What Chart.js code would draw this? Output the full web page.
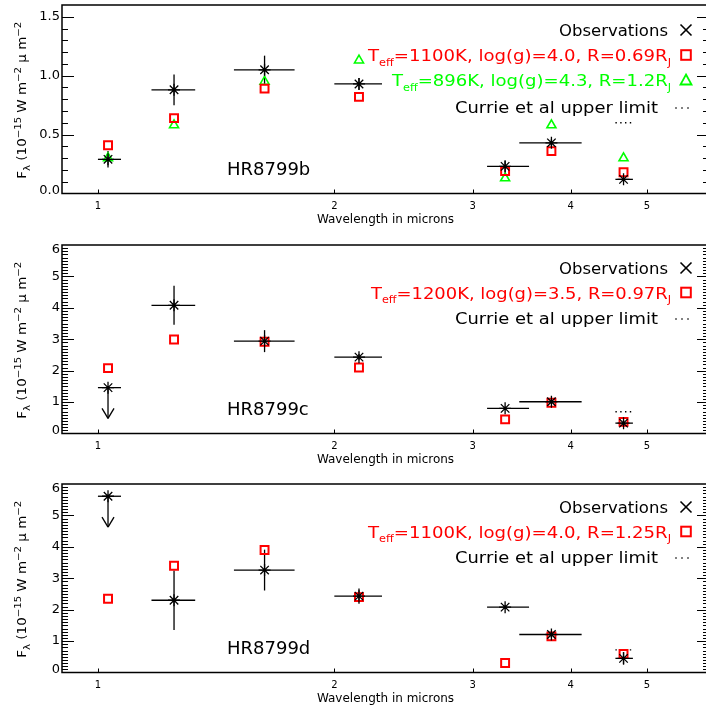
<!DOCTYPE html>
<html>
<head>
<meta charset="utf-8">
<script src="https://cdn.jsdelivr.net/npm/chart.js@4"></script>
<style>
  html, body { margin: 0; padding: 0; background: #fff; overflow: hidden; }
  body { width: 706px; height: 707px; position: relative; }
  .panel { position: absolute; left: 0; }
</style>
</head>
<body>
<div class="panel" style="top:0"><canvas id="chartB" width="712" height="236"></canvas></div>
<div class="panel" style="top:240px"><canvas id="chartC" width="712" height="236"></canvas></div>
<div class="panel" style="top:479px"><canvas id="chartD" width="712" height="236"></canvas></div>
<script>
// filter centres and widths (microns), same for the three planets
const wavelengths = [1.03, 1.25, 1.63, 2.15, 3.30, 3.78, 4.67];
const waveLow  = [1.00, 1.17, 1.49, 2.00, 3.13, 3.44, 4.56];
const waveHigh = [1.07, 1.33, 1.78, 2.30, 3.54, 4.13, 4.80];
const xTicks = [1, 2, 3, 4, 5];

// HR8799b
const obsB       = [0.29, 0.88, 1.05, 0.93, 0.23, 0.43, 0.12];
const obsErrB    = [0.07, 0.13, 0.12, 0.05, 0.05, 0.03, 0.02];
const model1100B = [0.41, 0.64, 0.89, 0.82, 0.19, 0.36, 0.18];
const model896B  = [0.30, 0.58, 0.95, 1.13, 0.13, 0.58, 0.30];
const currieB    = 0.60;
const yTicksB    = [0, 0.5, 1.0, 1.5];

// HR8799c
const obsC       = [1.46, 4.08, 2.94, 2.43, 0.80, 1.01, 0.33];
const obsErrC    = [0, 0.62, 0.35, 0.10, 0.05, 0.05, 0.10];
const limitTipC  = [0.48, null, null, null, null, null, null];
const model1200C = [2.08, 2.99, 2.92, 2.10, 0.45, 0.98, 0.37];
const currieC    = 0.69;

// HR8799d
const obsD       = [5.61, 2.30, 3.26, 2.43, 2.08, 1.21, 0.45];
const obsErrD    = [0, 0.95, 0.65, 0.24, 0.06, 0.10, 0.20];
const limitTipD  = [4.63, null, null, null, null, null, null];
const model1100D = [2.35, 3.40, 3.90, 2.40, 0.30, 1.15, 0.59];
const currieD    = 0.72;
const yTicksCD   = [0, 1, 2, 3, 4, 5, 6];

const FONT = '"DejaVu Sans", "Liberation Sans", sans-serif';
const RED = '#ff0000';
const GREEN = '#00ff00';

const pts = ys => wavelengths.map((x, i) => ({ x: x, y: ys[i] }));

function font(size) {
  return size + 'px ' + FONT;
}

// text with sub/superscripts, stretched to a given width when asked
function richWidth(ctx, parts, size, small) {
  let w = 0;
  parts.forEach(p => {
    ctx.font = font(p.sub || p.sup ? small : size);
    w += ctx.measureText(p.t).width;
  });
  return w;
}
function drawRich(ctx, parts, x, y, size, small, align, width) {
  const natural = richWidth(ctx, parts, size, small);
  const w = width || natural;
  const sx = w / natural;
  const left = align === 'right' ? x - w : align === 'center' ? x - w / 2 : x;
  ctx.save();
  ctx.translate(left, y);
  ctx.scale(sx, 1);
  ctx.textAlign = 'left';
  ctx.textBaseline = 'alphabetic';
  let cx = 0;
  parts.forEach(p => {
    ctx.font = font(p.sub || p.sup ? small : size);
    const dy = p.sub ? size * 0.3 : p.sup ? -size * 0.42 : 0;
    ctx.fillText(p.t, cx, dy);
    cx += ctx.measureText(p.t).width;
  });
  ctx.restore();
}

function line(ctx, x1, y1, x2, y2) {
  ctx.beginPath();
  ctx.moveTo(x1, y1);
  ctx.lineTo(x2, y2);
  ctx.stroke();
}

function drawSymbol(ctx, kind, x, y) {
  ctx.save();
  if (kind === 'x') {
    ctx.strokeStyle = '#000'; ctx.lineWidth = 1.6;
    line(ctx, x - 5.5, y - 5.5, x + 5.5, y + 5.5);
    line(ctx, x - 5.5, y + 5.5, x + 5.5, y - 5.5);
  } else if (kind === 'square') {
    ctx.strokeStyle = RED; ctx.lineWidth = 2;
    ctx.strokeRect(x - 4.8, y - 4.8, 9.6, 9.6);
  } else if (kind === 'triangle') {
    ctx.strokeStyle = GREEN; ctx.lineWidth = 1.8;
    ctx.beginPath();
    ctx.moveTo(x, y - 5.5); ctx.lineTo(x + 5.5, y + 4.5); ctx.lineTo(x - 5.5, y + 4.5);
    ctx.closePath(); ctx.stroke();
  } else if (kind === 'dots') {
    ctx.fillStyle = '#000';
    [-6, 0, 6].forEach(d => ctx.fillRect(x + d - 0.7, y - 0.7, 1.4, 1.4));
  }
  ctx.restore();
}

const yTitle = [
  { t: 'F' }, { t: 'λ', sub: true }, { t: ' (10' }, { t: '−15', sup: true },
  { t: ' W m' }, { t: '−2', sup: true }, { t: ' μ m' }, { t: '−2', sup: true }
];

const panelDecor = {
  id: 'panelDecor',
  beforeDatasetsDraw(chart, args, o) {
    const { ctx, scales: { x, y } } = chart;
    ctx.save();
    ctx.strokeStyle = '#000';
    ctx.lineWidth = 1.3;
    wavelengths.forEach((w, i) => {
      const px = x.getPixelForValue(w);
      const py = y.getPixelForValue(o.obs[i]);
      line(ctx, x.getPixelForValue(waveLow[i]), py, x.getPixelForValue(waveHigh[i]), py);
      if (o.err[i] > 0) {
        line(ctx, px, y.getPixelForValue(o.obs[i] - o.err[i]), px, y.getPixelForValue(o.obs[i] + o.err[i]));
      }
      if (o.tips && o.tips[i] != null) {
        const ty = y.getPixelForValue(o.tips[i]);
        line(ctx, px, py, px, ty);
        line(ctx, px - 6, ty - 10, px, ty);
        line(ctx, px + 6, ty - 10, px, ty);
      }
    });
    ctx.restore();
  },
  afterDraw(chart, args, o) {
    const { ctx, chartArea: a, scales: { x, y } } = chart;
    ctx.save();
    // frame
    ctx.strokeStyle = '#000';
    ctx.lineWidth = 1.5;
    ctx.strokeRect(a.left, a.top, a.right - a.left, a.bottom - a.top);
    // y ticks, left and right, pointing inwards
    ctx.lineWidth = 1;
    const n = Math.round((y.max - y.min) / o.minorStep);
    for (let k = 1; k < n; k++) {
      const v = y.min + k * o.minorStep;
      const major = o.yTicks.some(t => Math.abs(t - v) < 1e-6);
      const len = major ? 12 : 6;
      const py = Math.round(y.getPixelForValue(v)) + 0.5;
      line(ctx, a.left, py, a.left + len, py);
      line(ctx, a.right, py, a.right - len, py);
    }
    // y tick labels, kept inside the axis span at both ends
    ctx.fillStyle = '#000';
    ctx.font = font(13);
    ctx.textAlign = 'right';
    ctx.textBaseline = 'middle';
    y.ticks.forEach(t => {
      const py = Math.min(Math.max(y.getPixelForValue(t.value), a.top + 5), a.bottom - 3.3);
      ctx.fillText(o.yFormat(t.value), a.left - 2, py);
    });
    // x ticks on the bottom axis
    xTicks.forEach(v => {
      const px = Math.round(x.getPixelForValue(v)) + 0.5;
      line(ctx, px, a.bottom, px, a.bottom - 4);
    });
    // planet name
    ctx.font = font(18);
    ctx.textAlign = 'left';
    ctx.textBaseline = 'alphabetic';
    ctx.fillText(o.name, 227, a.bottom - 18.5);
    // legend
    o.legend.forEach(item => {
      const by = a.top + item.dy;
      ctx.fillStyle = item.color;
      drawRich(ctx, item.parts, item.right, by, 16, 10, 'right', item.width);
      drawSymbol(ctx, item.symbol, item.symbol === 'dots' ? 682 : 686, by - (item.symbol === 'dots' ? 5 : 6));
    });
    // y axis title
    ctx.fillStyle = '#000';
    ctx.translate(26, (a.top + a.bottom) / 2 + 1);
    ctx.rotate(-Math.PI / 2);
    drawRich(ctx, yTitle, 0, 0, 12, 9, 'center', 157);
    ctx.restore();
  }
};

function makePanel(id, p) {
  const datasets = [
    {
      data: pts(p.obs), pointStyle: 'star', pointRadius: 6,
      borderColor: '#000', backgroundColor: '#000', borderWidth: 1.3
    }
  ];
  p.models.forEach(m => datasets.push({
    data: pts(m.values), pointStyle: m.style, pointRadius: m.style === 'rect' ? 5.6 : 5.2,
    borderColor: m.color, backgroundColor: 'rgba(0,0,0,0)', borderWidth: m.style === 'rect' ? 2 : 1.6
  }));
  datasets.push({
    data: [{ x: waveLow[6], y: p.currie }, { x: waveHigh[6], y: p.currie }],
    showLine: true, pointRadius: 0, borderColor: '#000', borderWidth: 1.4, borderDash: [1.4, 3.4]
  });

  return new Chart(document.getElementById(id), {
    type: 'scatter',
    data: { datasets: datasets },
    plugins: [panelDecor],
    options: {
      responsive: false,
      animation: false,
      devicePixelRatio: 1,
      layout: { autoPadding: false, padding: { top: 5, right: 3, left: 0, bottom: 0 } },
      plugins: {
        legend: { display: false },
        tooltip: { enabled: false },
        panelDecor: {
          obs: p.obs, err: p.err, tips: p.tips, yTicks: p.yTicks, yFormat: p.yFormat,
          minorStep: 0.1, name: p.name, legend: p.legend
        }
      },
      scales: {
        x: {
          type: 'logarithmic', min: 0.9, max: 6,
          afterBuildTicks: s => { s.ticks = xTicks.map(v => ({ value: v })); },
          afterFit: s => { s.height = 42.5; s.paddingLeft = 0; s.paddingRight = 0; },
          ticks: {
            callback: v => String(v), autoSkip: false, maxRotation: 0,
            color: '#000', padding: 7, font: { family: FONT, size: 10 }
          },
          grid: { display: false, drawTicks: false, tickLength: 0 },
          border: { display: false },
          title: {
            display: true, text: 'Wavelength in microns', color: '#000',
            font: { family: FONT, size: 12 }, padding: { top: 0, bottom: 9 }
          }
        },
        y: {
          type: 'linear', min: 0, max: p.ymax,
          afterBuildTicks: s => { s.ticks = p.yTicks.map(v => ({ value: v })); },
          afterFit: s => { s.width = 62; s.paddingTop = 0; s.paddingBottom = 0; },
          ticks: { display: false },
          grid: { display: false, drawTicks: false, tickLength: 0 },
          border: { display: false }
        }
      }
    }
  });
}

const obsItem = { parts: [{ t: 'Observations' }], color: '#000', symbol: 'x', right: 668, width: 109 };
const currieItem = { parts: [{ t: 'Currie et al upper limit' }], color: '#000', symbol: 'dots', right: 658, width: 203 };
const modelItem = (text, color, symbol, width) => ({
  parts: [{ t: 'T' }, { t: 'eff', sub: true }, { t: text }, { t: 'J', sub: true }],
  color: color, symbol: symbol, right: 671, width: width
});

makePanel('chartB', {
  obs: obsB, err: obsErrB, tips: null, currie: currieB,
  models: [
    { values: model1100B, style: 'rect', color: RED },
    { values: model896B, style: 'triangle', color: GREEN }
  ],
  ymax: 1.6, yTicks: yTicksB, yFormat: v => v.toFixed(1), name: 'HR8799b',
  legend: [
    Object.assign({}, obsItem, { dy: 31 }),
    Object.assign(modelItem('=1100K, log(g)=4.0, R=0.69R', RED, 'square', 303), { dy: 56 }),
    Object.assign(modelItem('=896K, log(g)=4.3, R=1.2R', GREEN, 'triangle', 279), { dy: 81 }),
    Object.assign({}, currieItem, { dy: 108 })
  ]
});

makePanel('chartC', {
  obs: obsC, err: obsErrC, tips: limitTipC, currie: currieC,
  models: [{ values: model1200C, style: 'rect', color: RED }],
  ymax: 6, yTicks: yTicksCD, yFormat: v => String(v), name: 'HR8799c',
  legend: [
    Object.assign({}, obsItem, { dy: 29 }),
    Object.assign(modelItem('=1200K, log(g)=3.5, R=0.97R', RED, 'square', 300), { dy: 53.5 }),
    Object.assign({}, currieItem, { dy: 79 })
  ]
});

makePanel('chartD', {
  obs: obsD, err: obsErrD, tips: limitTipD, currie: currieD,
  models: [{ values: model1100D, style: 'rect', color: RED }],
  ymax: 6, yTicks: yTicksCD, yFormat: v => String(v), name: 'HR8799d',
  legend: [
    Object.assign({}, obsItem, { dy: 29 }),
    Object.assign(modelItem('=1100K, log(g)=4.0, R=1.25R', RED, 'square', 303), { dy: 53.5 }),
    Object.assign({}, currieItem, { dy: 79 })
  ]
});
</script>
</body>
</html>
